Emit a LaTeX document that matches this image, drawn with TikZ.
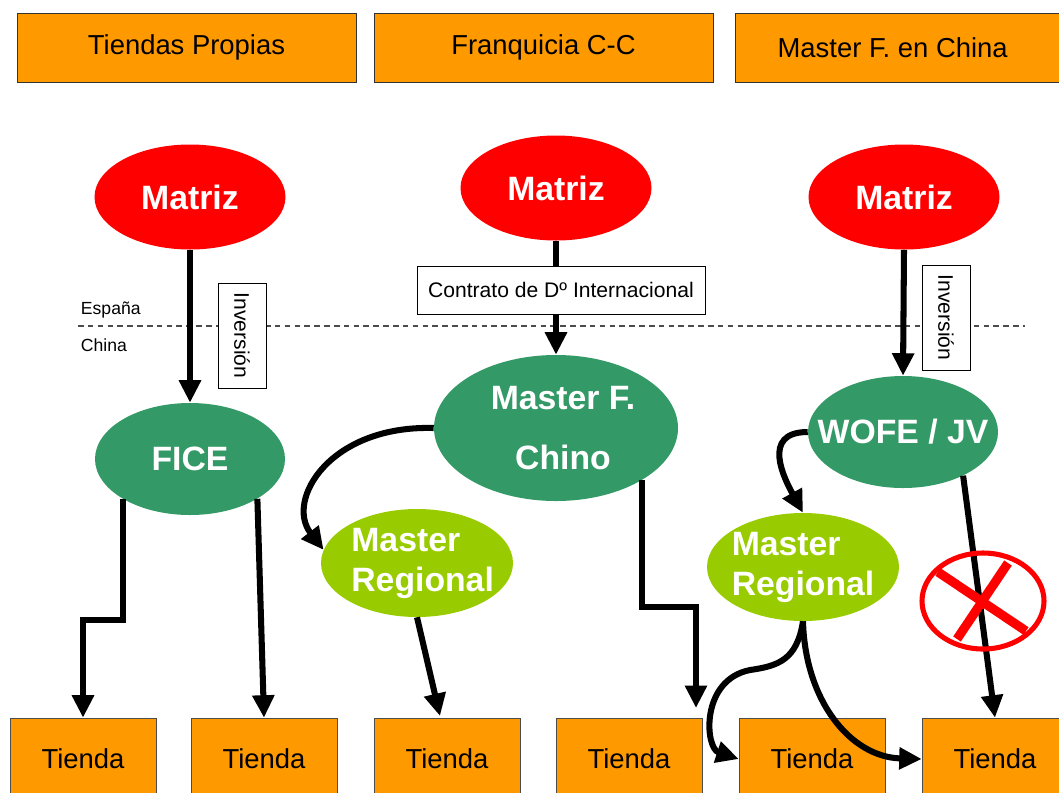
\documentclass[tikz,border=0pt]{standalone}
\usepackage{fontspec}
\setmainfont{Liberation Sans}
\usepackage{tikz}
\usetikzlibrary{calc,arrows.meta,shapes.geometric}
\definecolor{boxorange}{HTML}{FF9900}
\definecolor{matrizred}{HTML}{FF0000}
\definecolor{darkgreen}{HTML}{339966}
\definecolor{lightgreen}{HTML}{99CC00}
\newcommand{\pxl}{0.025cm}
\tikzset{
  topbox/.style={draw=black!80, fill=boxorange, minimum height=69*\pxl, inner sep=0pt,
    font=\fontsize{19.5}{23}\selectfont},
  shopbox/.style={draw=black!70, fill=boxorange, minimum width=146*\pxl, minimum height=82*\pxl,
    inner sep=0pt, font=\fontsize{19.5}{23}\selectfont},
  blob/.style={ellipse, inner ysep=0pt, inner xsep=-15pt, text=white, font=\bfseries\fontsize{24}{28.5}\selectfont},
  matriz/.style={blob, fill=matrizred, minimum width=191*\pxl, minimum height=105*\pxl},
  sub/.style={blob, fill=darkgreen, minimum width=190*\pxl, minimum height=112*\pxl},
  regional/.style={blob, fill=lightgreen, minimum width=192*\pxl, minimum height=108*\pxl, align=left},
  notebox/.style={draw=black, fill=white, inner sep=0pt, font=\fontsize{15}{18}\selectfont},
  side/.style={anchor=west, font=\fontsize{12.5}{15}\selectfont},
  sepline/.style={draw=black!70, line width=0.8pt, dash pattern=on 4pt off 3pt},
  arr/.style={draw=black, line width=4.3pt, -{Triangle[length=16pt, width=15pt]}},
  bar/.style={draw=black, line width=4.3pt},
  cross/.style={draw=matrizred, line width=6.5pt}
}

\begin{document}
\begin{tikzpicture}[x=\pxl, y=-\pxl]
  \useasboundingbox (0,0) rectangle (1059,792);

  % franja Espana / China
  \draw[sepline] (78,326) -- (1025,326);
  \node[side] (es) at (76,310) {España};
  \node[side] (cn) at (76,345) {China};

  % cabeceras
  \node[topbox, minimum width=339*\pxl] (h1) at (186.5,47.5) {Tiendas Propias};
  \node[topbox, minimum width=339*\pxl] (h2) at (543.5,47.5) {Franquicia C-C};
  \node[topbox, minimum width=328*\pxl] (h3) at (899,47.5) {Master F. en China\hspace*{9pt}};

  % matrices
  \node[matriz] (m1) at (190,197) {Matriz};
  \node[matriz] (m2) at (556,188) {Matriz};
  \node[matriz] (m3) at (904,197) {Matriz};

  % sociedades en China
  \node[sub] (fice) at (190,459) {FICE};
  \node[sub, minimum width=244*\pxl, minimum height=146*\pxl,
        font=\bfseries\fontsize{24}{42.5}\selectfont, align=center] (mfc) at (556,428) {\hspace*{10pt}Master F.\\\hspace*{10pt}Chino};
  \node[sub] (wofe) at (903,432) {WOFE / JV};

  \node[regional] (mr1) at (417,563) {\hspace*{8pt}Master\\\hspace*{8pt}Regional};
  \node[regional] (mr2) at (803,567) {Master\\Regional};

  % cajas de texto
  \node[notebox, rotate=-90, minimum width=105*\pxl, minimum height=48*\pxl] (inv1) at (242,335.5) {Inversión};
  \node[notebox, minimum width=288*\pxl, minimum height=48*\pxl] (dint) at (561,290) {Contrato de Dº Internacional};
  \node[notebox, rotate=-90, minimum width=105*\pxl, minimum height=48*\pxl] (inv2) at (946,317.5) {Inversión};

  % tiendas
  \node[shopbox] (t1) at (83,759) {Tienda};
  \node[shopbox] (t2) at (264,759) {Tienda};
  \node[shopbox] (t3) at (447,759) {Tienda};
  \node[shopbox] (t4) at (629,759) {Tienda};
  \node[shopbox] (t5) at (812,759) {Tienda};
  \node[shopbox] (t6) at (995,759) {Tienda};

  % flujos
  \draw[arr] (m1.south) -- (fice.north);
  \draw[bar] (m2.south) -- (m2.south |- dint.north);
  \draw[arr] (m2.south |- dint.south) -- (mfc.north);
  \draw[arr] (m3.south) -- (wofe.north);

  \coordinate (t4in) at (696,708);
  \coordinate (t3in) at (440,716);

  \draw[arr] (fice.south west) |- (83,620) -- (t1.north);
  \draw[arr] (fice.south east) -- (t2.north);
  \draw[arr] (mfc.west) .. controls (330,425) and (285,500) .. (mr1.172);
  \draw[arr] (mfc.-31.5) |- (t4in |- 0,607) -- (t4in);
  \draw[arr] (mr1.south) -- (t3in);
  \draw[arr] (wofe.west) .. controls (760,432) and (785,480) .. (mr2.north);
  \draw[arr] (mr2.south) .. controls (797,660) and (778,666) .. (750,670)
    .. controls (700,680) and (705,748) .. (t5.west);
  \draw[arr] (mr2.south) .. controls (805,700) and (850,757) .. (t6.west);
  \draw[arr] (wofe.-36) -- (t6.north);

  % vía descartada
  \draw[draw=matrizred, line width=3.6pt] (983,601) ellipse [x radius=61, y radius=48];
  \draw[cross] (938,572) -- (1026,631);
  \draw[cross] (1008,563) -- (957,639);
\end{tikzpicture}
\end{document}
